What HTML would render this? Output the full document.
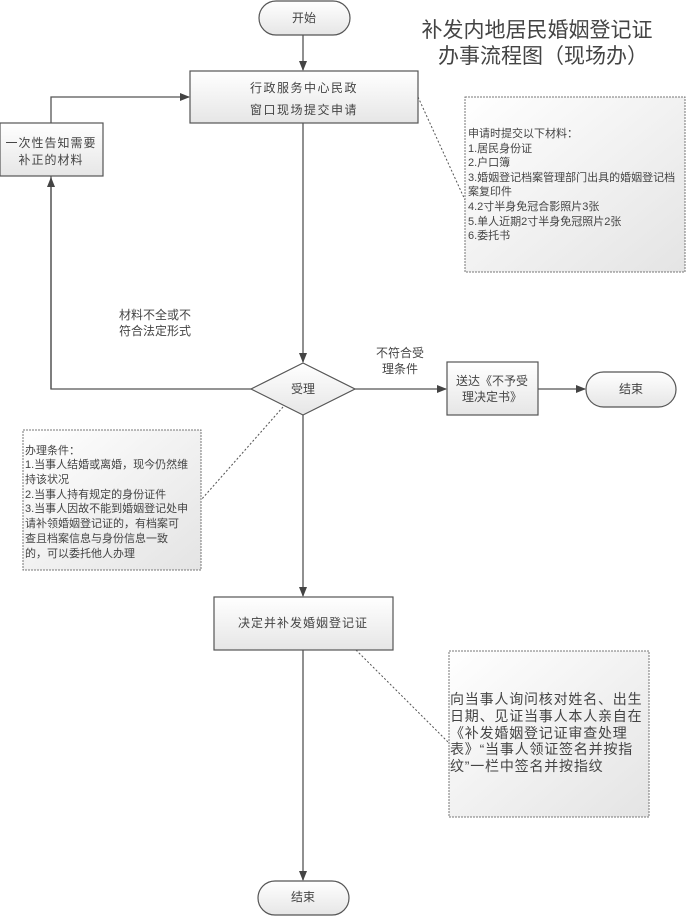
<!DOCTYPE html>
<html><head><meta charset="utf-8"><style>
html,body{margin:0;padding:0;background:#fff}
svg{display:block}
text{font-family:"Liberation Sans","Noto Sans CJK SC",sans-serif;fill:#444}
</style></head><body>
<svg width="693" height="918" viewBox="0 0 693 918" xmlns="http://www.w3.org/2000/svg">
<defs>
<linearGradient id="g" x1="0" y1="0" x2="0" y2="1"><stop offset="0" stop-color="#ffffff"/><stop offset="1" stop-color="#e6e6e6"/></linearGradient>
<linearGradient id="g2" x1="0" y1="0" x2="1" y2="1"><stop offset="0" stop-color="#ffffff"/><stop offset="1" stop-color="#e4e4e4"/></linearGradient>
<marker id="a" markerWidth="10" markerHeight="10" refX="9" refY="5" orient="auto" markerUnits="userSpaceOnUse"><path d="M0,1 L10,5 L0,9 Z" fill="#444"/></marker>
</defs>
<g stroke="#555" stroke-width="1.3" fill="none">
<line x1="303" y1="35" x2="303" y2="70" marker-end="url(#a)"/>
<line x1="303" y1="123" x2="303" y2="362" marker-end="url(#a)"/>
<polyline points="51,176 51,389 251,389"/>
<line x1="51" y1="389" x2="51" y2="178" marker-end="url(#a)"/>
<polyline points="51,123 51,97 189,97" marker-end="url(#a)"/>
<line x1="355" y1="389" x2="446" y2="389" marker-end="url(#a)"/>
<line x1="538" y1="389" x2="585" y2="389" marker-end="url(#a)"/>
<line x1="303" y1="415" x2="303" y2="596" marker-end="url(#a)"/>
<line x1="303" y1="650" x2="303" y2="880" marker-end="url(#a)"/>
</g>
<g stroke="#555" stroke-width="1" stroke-dasharray="2,2" fill="none">
<line x1="418" y1="97" x2="465" y2="200"/>
<line x1="283" y1="407" x2="201" y2="500"/>
<line x1="356" y1="650" x2="449" y2="743"/>
</g>
<g stroke="#555" stroke-width="1.2" fill="url(#g)">
<rect x="259" y="1" width="91" height="34" rx="17"/>
<rect x="190" y="71" width="228" height="52"/>
<rect x="0" y="123" width="103" height="53"/>
<polygon points="303,363 355,389 303,415 251,389"/>
<rect x="447" y="362" width="91" height="53"/>
<rect x="586" y="372" width="90" height="35" rx="17.5"/>
<rect x="214" y="597" width="179" height="53"/>
<rect x="258" y="881" width="91" height="34" rx="17"/>
</g>
<g stroke="#777" stroke-width="1" stroke-dasharray="2,1" fill="url(#g2)">
<rect x="465" y="97" width="220" height="175"/>
<rect x="23" y="430" width="178" height="140"/>
<rect x="449" y="651" width="200" height="166"/>
</g>
<g font-size="12" text-anchor="middle">
<text x="304" y="22">开始</text>
<text x="304" y="92" letter-spacing="1.5">行政服务中心民政</text>
<text x="304" y="114" letter-spacing="1.5">窗口现场提交申请</text>
<text x="51" y="147" letter-spacing="1">一次性告知需要</text>
<text x="51" y="164" letter-spacing="1">补正的材料</text>
<text x="155" y="319">材料不全或不</text>
<text x="155" y="335">符合法定形式</text>
<text x="303" y="393">受理</text>
<text x="400" y="357">不符合受</text>
<text x="400" y="373">理条件</text>
<text x="492" y="385">送达《不予受</text>
<text x="492" y="401">理决定书》</text>
<text x="631" y="393">结束</text>
<text x="303" y="627" letter-spacing="1">决定并补发婚姻登记证</text>
<text x="303" y="901">结束</text>
</g>
<text x="537" y="37" font-size="21" text-anchor="middle">补发内地居民婚姻登记证</text>
<text x="543" y="63" font-size="21" text-anchor="middle">办事流程图（现场办）</text>
<g font-size="11">
<text x="468" y="137">申请时提交以下材料：</text>
<text x="468" y="152">1.居民身份证</text>
<text x="468" y="166">2.户口簿</text>
<text x="468" y="181">3.婚姻登记档案管理部门出具的婚姻登记档</text>
<text x="468" y="195">案复印件</text>
<text x="468" y="210">4.2寸半身免冠合影照片3张</text>
<text x="468" y="225">5.单人近期2寸半身免冠照片2张</text>
<text x="468" y="239">6.委托书</text>
<text x="25" y="454">办理条件：</text>
<text x="25" y="468">1.当事人结婚或离婚，现今仍然维</text>
<text x="25" y="483">持该状况</text>
<text x="25" y="498">2.当事人持有规定的身份证件</text>
<text x="25" y="512">3.当事人因故不能到婚姻登记处申</text>
<text x="25" y="527">请补领婚姻登记证的，有档案可</text>
<text x="25" y="542">查且档案信息与身份信息一致</text>
<text x="25" y="557">的，可以委托他人办理</text>
</g>
<g font-size="14" letter-spacing="0.8">
<text x="450" y="704">向当事人询问核对姓名、出生</text>
<text x="450" y="721">日期、见证当事人本人亲自在</text>
<text x="450" y="738">《补发婚姻登记证审查处理</text>
<text x="450" y="754">表》“当事人领证签名并按指</text>
<text x="450" y="771">纹”一栏中签名并按指纹</text>
</g>
</svg>
</body></html>
